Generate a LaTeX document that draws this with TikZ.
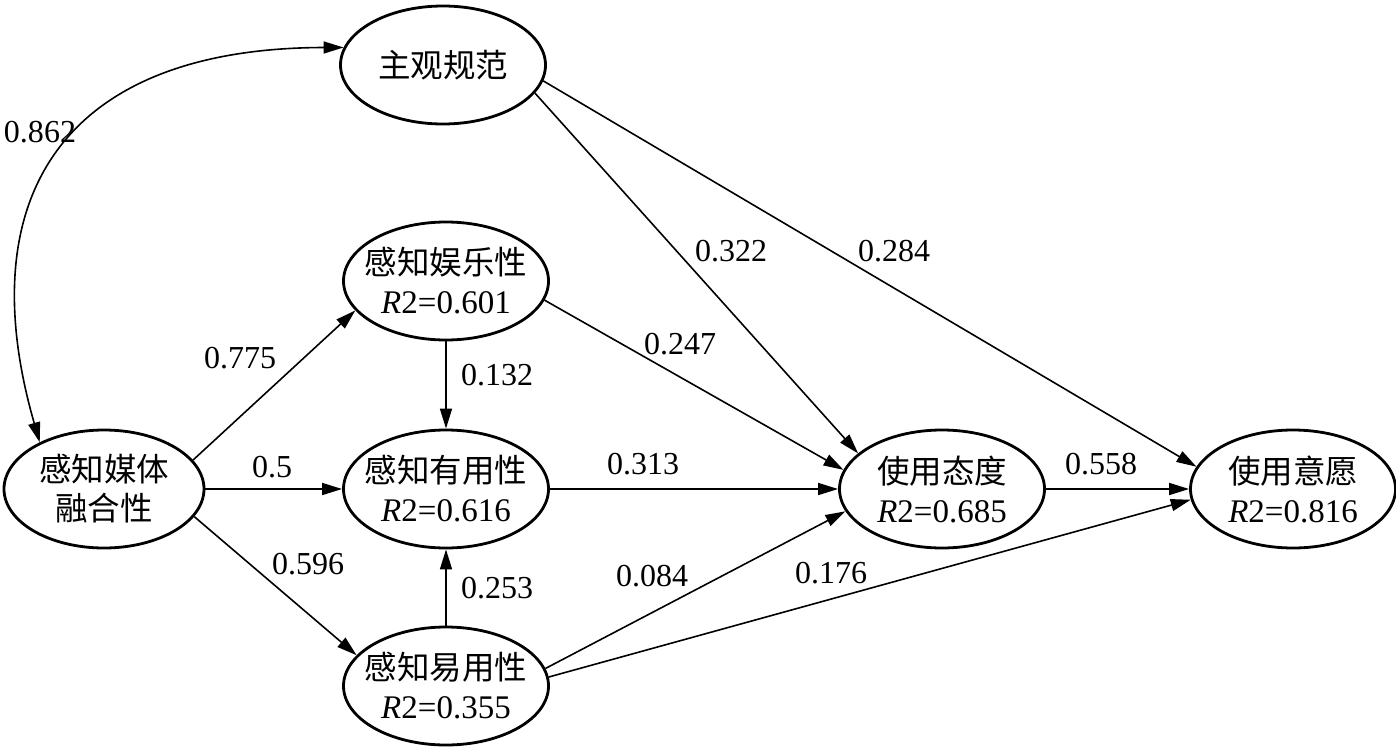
\documentclass[tikz,border=0pt]{standalone}
\usepackage{fontspec}
\setmainfont{Liberation Serif}
\newfontfamily\cjk{Noto Sans CJK SC}
\newcommand{\zhtext}[1]{{\cjk\fontsize{32.5}{39}\selectfont #1}}
\usetikzlibrary{shapes.geometric,arrows.meta}
\tikzset{
  var/.style={ellipse,draw,line width=2.8pt,minimum width=205pt,minimum height=118pt,
    inner xsep=-20pt,inner ysep=0pt,align=center,font=\fontsize{33}{39}\selectfont},
  path/.style={line width=1.6pt,-{Triangle[length=20pt,width=12pt]}},
  coef/.style={inner sep=0pt,font=\fontsize{32}{38}\selectfont}
}
\begin{document}
\begin{tikzpicture}[x=1pt,y=-1pt]
\useasboundingbox[fill=white] (0,0) rectangle (1396,747);
% nodes
\node[var] (zg) at (443,65) {\zhtext{主观规范}};
\node[var] (yl) at (446,281) {\zhtext{感知娱乐性}\\\textit{R}2=0.601};
\node[var] (yy) at (446,489) {\zhtext{感知有用性}\\\textit{R}2=0.616};
\node[var] (ey) at (446,686) {\zhtext{感知易用性}\\\textit{R}2=0.355};
\node[var,minimum width=200pt] (rh) at (104,489) {\zhtext{感知媒体}\\\zhtext{融合性}};
\node[var] (td) at (942,489) {\zhtext{使用态度}\\\textit{R}2=0.685};
\node[var] (yw) at (1293,489) {\zhtext{使用意愿}\\\textit{R}2=0.816};
% connectors
\draw[path,{Triangle[length=20pt,width=12pt]}-{Triangle[length=20pt,width=12pt]}]
  (rh.144) .. controls (-30,200) and (60,48) .. (zg.170);
\draw[path] (zg.-17.5) -- (td.157);
\draw[path] (zg.-9.2) -- (yw.167.9);
\draw[path] (yl.-11.1) -- (td.169);
\draw[path] (yy.east) -- (td.west);
\draw[path] (ey.10.1) -- (td.193.9);
\draw[path] (ey.5.1) -- (yw.186.2);
\draw[path] (td.east) -- (yw.west);
\draw[path] (rh.18.8) -- (yl.198.8);
\draw[path] (rh.east) -- (yy.west);
\draw[path] (rh.-17.3) -- (ey.161.2);
\draw[path] (yl.south) -- (yy.north);
\draw[path] (ey.north) -- (yy.south);
% labels
\node[coef] (l1) at (40,132) {0.862};
\node[coef] (l2) at (731,251) {0.322};
\node[coef] (l3) at (894,251) {0.284};
\node[coef] (l4) at (240,358) {0.775};
\node[coef] (l5) at (272,467) {0.5};
\node[coef] (l6) at (308,564) {0.596};
\node[coef] (l7) at (497,375) {0.132};
\node[coef] (l8) at (497,588) {0.253};
\node[coef] (l9) at (680,344) {0.247};
\node[coef] (l10) at (643,464) {0.313};
\node[coef] (l11) at (652,576) {0.084};
\node[coef] (l12) at (831,573) {0.176};
\node[coef] (l13) at (1101,464) {0.558};
\end{tikzpicture}
\end{document}
